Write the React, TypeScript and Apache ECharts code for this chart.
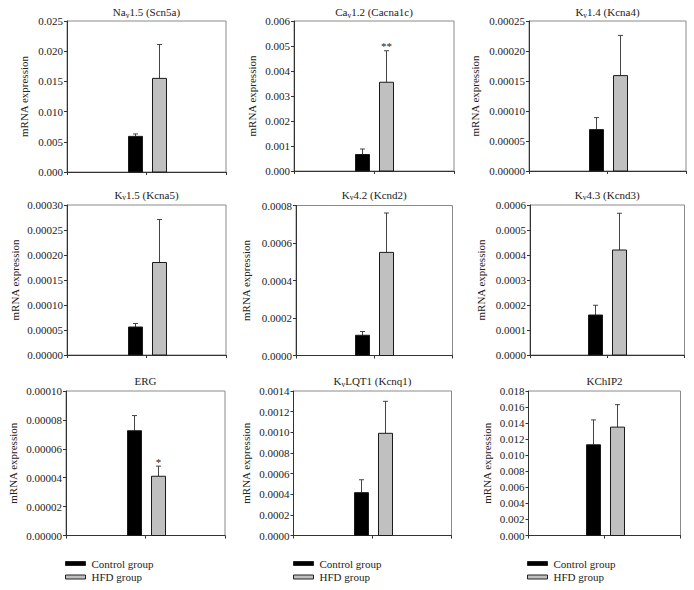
import React, { useEffect, useRef } from "react";
import * as echarts from "echarts";

// ---- Data ----
const titles = [
  "Na_v1.5 (Scn5a)",
  "Ca_v1.2 (Cacna1c)",
  "K_v1.4 (Kcna4)",
  "K_v1.5 (Kcna5)",
  "K_v4.2 (Kcnd2)",
  "K_v4.3 (Kcnd3)",
  "ERG",
  "K_vLQT1 (Kcnq1)",
  "KChIP2",
];
const groups = ["Control group", "HFD group"];
const controlMean = [0.0059, 0.00066, 0.000069, 0.000056, 0.000108, 0.00016, 0.0000725, 0.000415, 0.0113];
const controlErr = [0.0004, 0.00022, 0.00002, 0.000007, 0.00002, 0.000039, 0.0000105, 0.000125, 0.0031];
const hfdMean = [0.0155, 0.00355, 0.000159, 0.000185, 0.00055, 0.00042, 0.000041, 0.00099, 0.0135];
const hfdErr = [0.0056, 0.00126, 0.000067, 0.000086, 0.00021, 0.000147, 0.000007, 0.00031, 0.0028];
const hfdSignificance = ["", "**", "", "", "", "", "*", "", ""];
const yMax = [0.025, 0.006, 0.00025, 0.0003, 0.0008, 0.0006, 0.0001, 0.0014, 0.018];
const yStep = [0.005, 0.001, 0.00005, 0.00005, 0.0002, 0.0001, 0.00002, 0.0002, 0.002];
const yDecimals = [3, 3, 5, 5, 4, 4, 5, 4, 3];
const yAxisName = "mRNA expression";

// ---- Layout ----
const LAYOUT = {
  left: [67, 294, 529, 67, 296, 530, 66, 293.5, 528.5],
  top: [21, 21, 21, 205, 205.5, 205, 391, 391, 391],
  width: [159, 160, 157, 159, 156.5, 154.5, 159, 158, 152],
  height: [151, 150, 150, 150, 150, 150, 144.5, 144.5, 144.5],
  nameGap: [38, 37, 48.5, 46.5, 45, 44, 47.5, 42, 36],
  titleY: [12, 12, 12, 194.5, 194.5, 194.5, 381, 381, 381],
  legendLeft: [65, 293, 527],
};
const SERIF = "Liberation Serif";
const COLORS = ["#000000", "#c0c0c0"];

function richTitle(t: string) {
  const i = t.indexOf("_");
  if (i < 0) return "{n|" + t + "}";
  const pre = t.slice(0, i);
  const sub = t.slice(i + 1, i + 2);
  const post = t.slice(i + 2);
  return "{n|" + pre + "}{s|" + sub + "}{n|" + post + "}";
}

export default function App() {
  const ref = useRef<HTMLDivElement>(null);
  useEffect(() => {
    if (!ref.current) return;
    const chart = echarts.init(ref.current, undefined, { renderer: "svg" });
    const n = titles.length;
    const grids: any[] = [];
    const xAxes: any[] = [];
    const yAxes: any[] = [];
    const series: any[] = [];
    const graphics: any[] = [];
    for (let i = 0; i < n; i++) {
      grids.push({
        left: LAYOUT.left[i],
        top: LAYOUT.top[i],
        width: LAYOUT.width[i],
        height: LAYOUT.height[i],
        show: true,
        borderColor: "#8a8a8a",
        borderWidth: 1,
        containLabel: false,
      });
      xAxes.push({
        type: "value",
        gridIndex: i,
        min: 0,
        max: 2,
        interval: 1,
        axisLine: { show: true, lineStyle: { color: "#333", width: 1 } },
        axisTick: { show: true, inside: false, length: 3, lineStyle: { color: "#333" } },
        axisLabel: { show: false },
        splitLine: { show: false },
      });
      const dec = yDecimals[i];
      yAxes.push({
        type: "value",
        gridIndex: i,
        min: 0,
        max: yMax[i],
        interval: yStep[i],
        name: yAxisName,
        nameLocation: "middle",
        nameGap: LAYOUT.nameGap[i],
        nameTextStyle: { fontFamily: SERIF, fontSize: 11, color: "#222" },
        axisLine: { show: true, lineStyle: { color: "#333", width: 1 } },
        axisTick: { show: true, inside: false, length: 3, lineStyle: { color: "#333" } },
        axisLabel: {
          fontFamily: SERIF,
          fontSize: 11,
          color: "#222",
          margin: 4,
          formatter: (v: number) => v.toFixed(dec),
        },
        splitLine: { show: false },
      });
      const means = [controlMean[i], hfdMean[i]];
      const errs = [controlErr[i], hfdErr[i]];
      for (let g = 0; g < 2; g++) {
        const offset = g === 0 ? -12 : 12;
        const sig = g === 1 ? hfdSignificance[i] : "";
        series.push({
          type: "custom",
          name: groups[g],
          xAxisIndex: i,
          yAxisIndex: i,
          itemStyle: { color: COLORS[g], borderColor: "#1a1a1a", borderWidth: 1 },
          encode: { x: 0, y: 1 },
          data: [[1, means[g], errs[g]]],
          renderItem: (params: any, api: any) => {
            const mean = api.value(1);
            const err = api.value(2);
            const base = api.coord([1, 0]);
            const top = api.coord([1, mean]);
            const cap = api.coord([1, mean + err]);
            const cx = Math.round(base[0] + offset) + 0.5;
            const children: any[] = [
              {
                type: "line",
                shape: { x1: cx, y1: top[1], x2: cx, y2: cap[1] },
                style: { stroke: "#444", lineWidth: 1 },
              },
              {
                type: "line",
                shape: { x1: cx - 2.5, y1: cap[1], x2: cx + 2.5, y2: cap[1] },
                style: { stroke: "#444", lineWidth: 1 },
              },
              {
                type: "rect",
                shape: { x: cx - 7, y: top[1], width: 14, height: base[1] - top[1] },
                style: { fill: COLORS[g], stroke: "#1a1a1a", lineWidth: 1 },
              },
            ];
            if (sig) {
              children.push({
                type: "text",
                style: {
                  text: sig,
                  x: cx,
                  y: cap[1] + 1,
                  align: "center",
                  verticalAlign: "bottom",
                  fontFamily: SERIF,
                  fontSize: 11,
                  fill: "#222",
                },
              });
            }
            return { type: "group", children };
          },
        });
      }
      graphics.push({
        type: "text",
        x: LAYOUT.left[i] + LAYOUT.width[i] / 2,
        y: LAYOUT.titleY[i],
        style: {
          text: richTitle(titles[i]),
          align: "center",
          verticalAlign: "middle",
          rich: {
            n: { fontFamily: SERIF, fontSize: 11, lineHeight: 14, verticalAlign: "middle", fill: "#222" },
            s: { fontFamily: SERIF, fontSize: 7.5, lineHeight: 8, verticalAlign: "bottom", fill: "#222" },
          },
        },
      });
    }
    const legends = LAYOUT.legendLeft.map((l) => ({
      data: groups,
      left: l,
      top: 558,
      orient: "vertical",
      icon: "rect",
      itemWidth: 20,
      itemHeight: 4,
      itemGap: 2.5,
      selectedMode: false,
      padding: 0,
      itemStyle: { borderColor: "#222", borderWidth: 1 },
      textStyle: { fontFamily: SERIF, fontSize: 11, lineHeight: 11, color: "#222", padding: [0, 0, 0, 1] },
    }));
    chart.setOption({
      animation: false,
      backgroundColor: "#ffffff",
      grid: grids,
      xAxis: xAxes,
      yAxis: yAxes,
      series,
      legend: legends,
      graphic: graphics,
    });
    return () => chart.dispose();
  }, []);
  return (
    <div
      ref={ref}
      style={{ position: "absolute", left: 0, top: 0, width: 694, height: 590, background: "#fff" }}
    />
  );
}
